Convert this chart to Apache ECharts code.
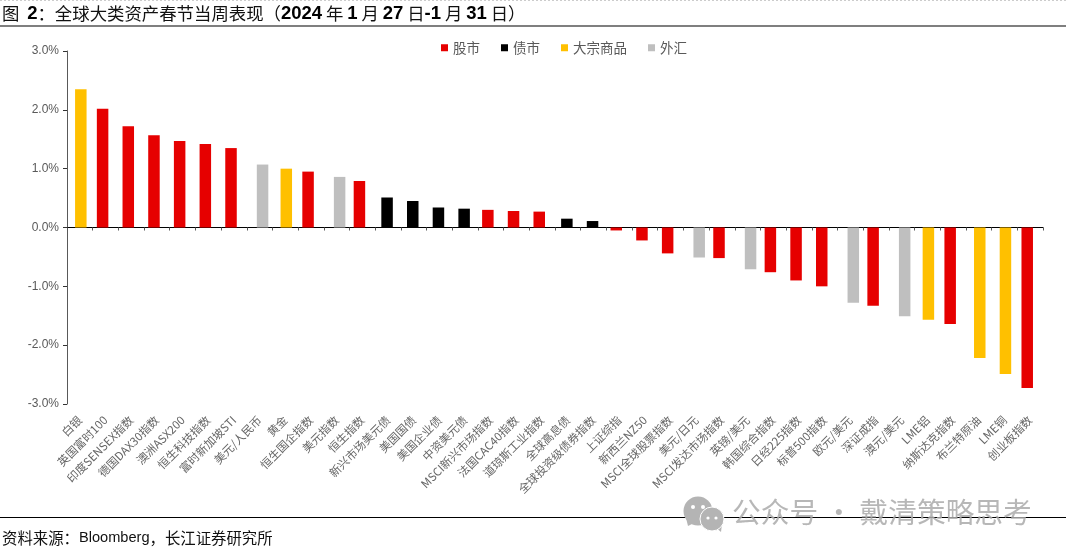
<!DOCTYPE html>
<html>
<head>
<meta charset="utf-8">
<title>全球大类资产春节当周表现</title>
<script src="https://cdn.jsdelivr.net/npm/echarts@6/dist/echarts.min.js"></script>
<style>
html, body { margin: 0; padding: 0; background: #fff; }
#main { width: 1066px; height: 555px; }
</style>
</head>
<body>
<div id="main"></div>
<script>
var categories = ['白银', '英国富时100', '印度SENSEX指数', '德国DAX30指数', '澳洲ASX200', '恒生科技指数', '富时新加坡STI', '美元/人民币', '黄金', '恒生国企指数', '美元指数', '恒生指数', '新兴市场美元债', '美国国债', '美国企业债', '中资美元债', 'MSCI新兴市场指数', '法国CAC40指数', '道琼斯工业指数', '全球高息债', '全球投资级债券指数', '上证综指', '新西兰NZ50', 'MSCI全球股票指数', '美元/日元', 'MSCI发达市场指数', '英镑/美元', '韩国综合指数', '日经225指数', '标普500指数', '欧元/美元', '深证成指', '澳元/美元', 'LME铝', '纳斯达克指数', '布兰特原油', 'LME铜', '创业板指数'];

// 每个系列只在自己的类别上有值
var stockValues = [null, 2.02, 1.72, 1.57, 1.47, 1.42, 1.35, null, null, 0.95, null, 0.79, null, null, null, null, 0.30, 0.28, 0.27, null, null, -0.05, -0.22, -0.44, null, -0.52, null, -0.76, -0.90, -1.00, null, -1.33, null, null, -1.64, null, null, -2.73];
var bondValues = [null, null, null, null, null, null, null, null, null, null, null, null, 0.51, 0.45, 0.34, 0.32, null, null, null, 0.15, 0.11, null, null, null, null, null, null, null, null, null, null, null, null, null, null, null, null, null];
var commodityValues = [2.35, null, null, null, null, null, null, null, 1.00, null, null, null, null, null, null, null, null, null, null, null, null, null, null, null, null, null, null, null, null, null, null, null, null, -1.57, null, -2.22, -2.49, null];
var fxValues = [null, null, null, null, null, null, null, 1.07, null, null, 0.86, null, null, null, null, null, null, null, null, null, null, null, null, null, -0.51, null, -0.71, null, null, null, -1.28, null, -1.51, null, null, null, null, null];

var seriesNames = ['股市', '债市', '大宗商品', '外汇'];
var seriesColors = ['#e60000', '#000000', '#ffc000', '#bfbfbf'];
var seriesValues = [stockValues, bondValues, commodityValues, fxValues];

var titleText = '{cn|图  }{en|2}{cn|：全球大类资产春节当周表现（}{en|2024}{cn| 年 }{en|1}{cn| 月 }{en|27}{cn| 日}{en|-1}{cn| 月 }{en|31}{cn| 日）}';
var sourceText = '{cn|资料来源：}{en|Bloomberg}{cn|，长江证券研究所}';
var watermarkText = '公众号 · 戴清策略思考';

var cnFont = '"Noto Sans CJK SC", sans-serif';
var latinFont = '"Liberation Sans", Arial, sans-serif';

var series = [];
for (var i = 0; i < seriesNames.length; i++) {
    series.push({
        name: seriesNames[i],
        type: 'bar',
        xAxisIndex: 0,
        barWidth: 11.5,
        barGap: '-83%',
        itemStyle: { color: seriesColors[i] },
        data: seriesValues[i]
    });
}

var myChart = echarts.init(document.getElementById('main'), null, { renderer: 'canvas' });

var option = {
    backgroundColor: '#ffffff',
    animation: false,
    title: {
        text: titleText,
        left: 2,
        top: 4,
        padding: 0,
        textStyle: {
            rich: {
                cn: { fontFamily: cnFont, fontSize: 17.4, fontWeight: 'normal', color: '#111111' },
                en: { fontFamily: latinFont, fontSize: 18.5, fontWeight: 'bold', color: '#000000' }
            }
        }
    },
    legend: {
        left: 436,
        top: 36,
        icon: 'rect',
        itemWidth: 7,
        itemHeight: 7,
        itemGap: 21,
        itemStyle: { borderWidth: 0 },
        textStyle: {
            fontFamily: cnFont,
            fontSize: 13.5,
            color: '#595959'
        },
        data: seriesNames
    },
    grid: { left: 67, right: 23, top: 51, bottom: 151, containLabel: false },
    xAxis: [
        {
            // 零轴：只画轴线和刻度
            type: 'category',
            data: categories,
            axisLine: { onZero: true, lineStyle: { color: '#000000', width: 1 } },
            axisTick: { show: true, interval: 0, length: 3, lineStyle: { color: '#595959' } },
            axisLabel: { show: false },
            splitLine: { show: false }
        },
        {
            // 底部：只放类别标签
            type: 'category',
            position: 'bottom',
            data: categories,
            axisLine: { show: false, onZero: false },
            axisTick: { show: false },
            axisLabel: {
                interval: 0,
                rotate: 45,
                margin: 14,
                fontFamily: cnFont,
                fontSize: 11.5,
                color: '#666666'
            },
            splitLine: { show: false }
        }
    ],
    yAxis: {
        type: 'value',
        min: -3,
        max: 3,
        interval: 1,
        axisLine: { show: true, lineStyle: { color: '#595959', width: 1 } },
        axisTick: { show: true, length: 4, lineStyle: { color: '#333333' } },
        axisLabel: {
            margin: 8,
            fontFamily: latinFont,
            fontSize: 12,
            color: '#595959',
            formatter: function (value) {
                return value.toFixed(1) + '%';
            }
        },
        splitLine: { show: false }
    },
    series: series,
    graphic: [
        { type: 'line', shape: { x1: 0, y1: 0.5, x2: 1066, y2: 0.5 }, style: { stroke: '#cccccc', lineWidth: 1, lineDash: [2, 2] } },
        { type: 'line', shape: { x1: 0, y1: 26, x2: 1066, y2: 26 }, style: { stroke: '#000000', lineWidth: 1.2 } },
        { type: 'line', shape: { x1: 0, y1: 517.5, x2: 1066, y2: 517.5 }, style: { stroke: '#000000', lineWidth: 1.2 } },
        {
            type: 'text',
            left: 2,
            top: 530,
            style: {
                text: sourceText,
                rich: {
                    cn: { fontFamily: cnFont, fontSize: 15.4, fill: '#111111' },
                    en: { fontFamily: latinFont, fontSize: 14.6, fill: '#111111' }
                }
            }
        },
        // 公众号水印
        { type: 'polygon', shape: { points: [[686, 518], [696, 522], [688, 526]] }, style: { fill: '#b4b4b4' }, z: 10 },
        { type: 'polygon', shape: { points: [[714, 526], [722, 524], [721, 532]] }, style: { fill: '#b4b4b4' }, z: 10 },
        { type: 'circle', shape: { cx: 698, cy: 511, r: 14.5 }, style: { fill: '#b4b4b4' }, z: 10 },
        { type: 'circle', shape: { cx: 712, cy: 519, r: 12 }, style: { fill: '#b4b4b4', stroke: '#ffffff', lineWidth: 1 }, z: 11 },
        { type: 'circle', shape: { cx: 693, cy: 507, r: 2 }, style: { fill: '#ffffff' }, z: 12 },
        { type: 'circle', shape: { cx: 703, cy: 507, r: 2 }, style: { fill: '#ffffff' }, z: 12 },
        { type: 'circle', shape: { cx: 708, cy: 518, r: 1.6 }, style: { fill: '#ffffff' }, z: 12 },
        { type: 'circle', shape: { cx: 716, cy: 518, r: 1.6 }, style: { fill: '#ffffff' }, z: 12 },
        { type: 'text', left: 732, top: 498, z: 10, style: { text: watermarkText, fontFamily: cnFont, fontSize: 28.7, fill: 'rgba(170,170,170,0.85)' } }
    ]
};

myChart.setOption(option);
</script>
</body>
</html>
